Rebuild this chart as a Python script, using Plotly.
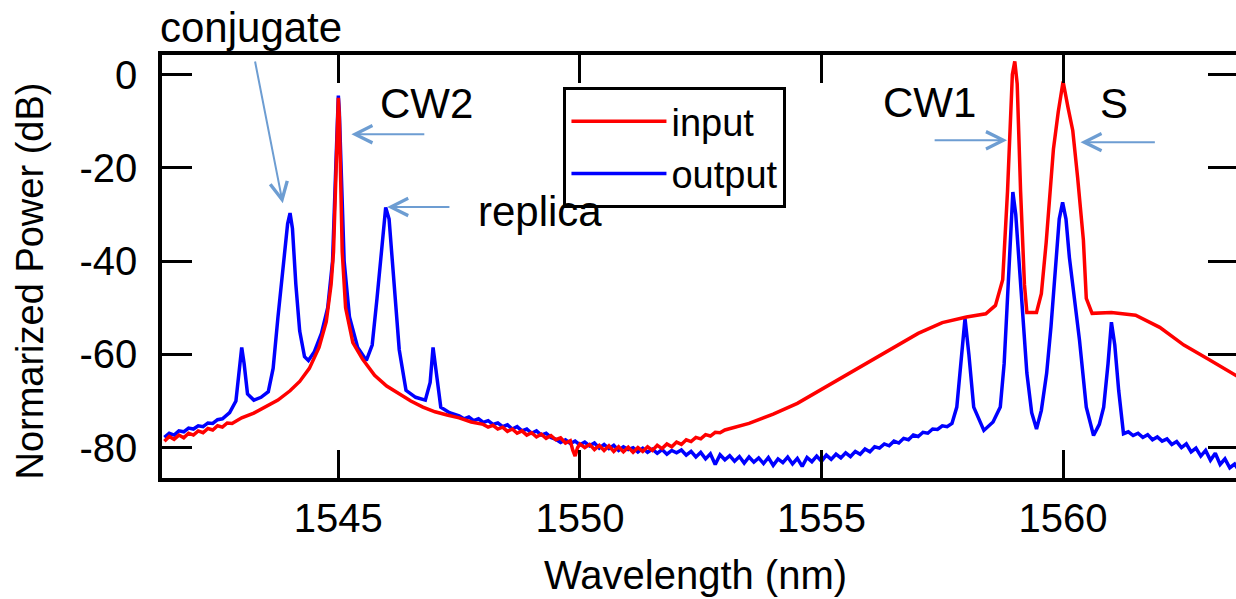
import plotly.graph_objects as go

# ---------------- data ----------------
wl_input = [1541.4, 1541.5, 1541.6, 1541.7, 1541.8, 1541.9, 1542.0, 1542.1, 1542.2, 1542.3,
            1542.4, 1542.5, 1542.6, 1542.7, 1542.8, 1543.0, 1543.25, 1543.5, 1543.75, 1544.0,
            1544.2, 1544.4, 1544.6, 1544.75, 1544.85, 1544.9, 1544.95, 1544.98, 1545.0, 1545.02,
            1545.05, 1545.08, 1545.15, 1545.3, 1545.5, 1545.75, 1546.0, 1546.25, 1546.5, 1546.75,
            1547.0, 1547.25, 1547.5, 1547.75, 1548.0, 1548.1, 1548.2, 1548.3, 1548.4, 1548.5,
            1548.6, 1548.7, 1548.8, 1548.9, 1549.0, 1549.1, 1549.2, 1549.3, 1549.4, 1549.5,
            1549.6, 1549.7, 1549.8, 1549.85, 1549.9, 1549.95, 1550.0, 1550.1, 1550.2, 1550.3,
            1550.4, 1550.5, 1550.6, 1550.7, 1550.8, 1550.9, 1551.0, 1551.1, 1551.2, 1551.3,
            1551.4, 1551.5, 1551.6, 1551.7, 1551.8, 1551.9, 1552.0, 1552.1, 1552.2, 1552.3,
            1552.4, 1552.5, 1552.6, 1552.7, 1552.8, 1552.9, 1553.0, 1553.5, 1554.0, 1554.5,
            1555.0, 1555.5, 1556.0, 1556.5, 1557.0, 1557.5, 1558.0, 1558.4, 1558.6, 1558.75,
            1558.85, 1558.95, 1559.0, 1559.05, 1559.12, 1559.2, 1559.25, 1559.45, 1559.55, 1559.65,
            1559.8, 1559.9, 1560.0, 1560.1, 1560.2, 1560.3, 1560.42, 1560.48, 1560.6, 1561.0,
            1561.5, 1562.0, 1562.5, 1563.0, 1563.62]
db_input = [-78.6, -77.6, -78.2, -77.3, -77.9, -76.9, -77.3, -76.4, -76.8, -75.9,
            -76.2, -75.3, -75.6, -74.7, -74.8, -73.6, -72.6, -71.3, -69.8, -67.8,
            -65.8, -63.0, -58.5, -53.0, -45.0, -38.0, -22.0, -10.0, -5.0, -9.0,
            -22.0, -38.0, -50.0, -57.5, -61.0, -64.5, -66.8, -68.5, -70.0, -71.3,
            -72.3, -73.0, -73.6, -74.5, -75.0, -75.6, -75.2, -76.0, -75.6, -76.5,
            -76.0, -76.9, -76.4, -77.3, -76.8, -77.7, -77.1, -78.0, -77.4, -78.3,
            -77.9, -79.0, -78.5, -80.5, -81.8, -80.0, -79.2, -80.0, -79.3, -80.4,
            -79.5, -80.6, -79.6, -80.8, -79.8, -80.9, -79.9, -81.0, -80.0, -80.8,
            -79.8, -80.6, -79.5, -80.2, -79.2, -79.8, -78.8, -79.3, -78.3, -78.7,
            -77.8, -78.1, -77.2, -77.5, -76.7, -76.8, -76.2, -74.8, -72.8, -70.5,
            -67.5, -64.6, -61.5, -58.5, -55.5, -53.2, -52.0, -51.3, -49.5, -44.0,
            -25.0, 0.0, 2.8, -2.0, -25.0, -45.0, -51.0, -51.0, -47.0, -36.0,
            -16.0, -8.0, -1.5, -7.0, -12.0, -22.0, -35.5, -48.0, -51.2, -51.0,
            -51.6, -54.2, -58.0, -61.0, -64.8]

wl_output = [1541.4, 1541.5, 1541.6, 1541.7, 1541.8, 1541.9, 1542.0, 1542.1, 1542.2, 1542.3,
             1542.4, 1542.5, 1542.6, 1542.7, 1542.75, 1542.88, 1542.95, 1543.0, 1543.05, 1543.12,
             1543.25, 1543.4, 1543.55, 1543.65, 1543.75, 1543.85, 1543.95, 1544.0, 1544.05, 1544.12,
             1544.2, 1544.3, 1544.38, 1544.5, 1544.65, 1544.78, 1544.88, 1544.94, 1544.98, 1545.0,
             1545.02, 1545.06, 1545.12, 1545.23, 1545.4, 1545.58, 1545.7, 1545.8, 1545.9, 1545.98,
             1546.05, 1546.15, 1546.26, 1546.4, 1546.6, 1546.8, 1546.9, 1546.96, 1547.02, 1547.12,
             1547.3, 1547.5, 1547.6, 1547.7, 1547.8, 1547.9, 1548.0, 1548.1, 1548.2, 1548.3,
             1548.4, 1548.5, 1548.6, 1548.7, 1548.8, 1548.9, 1549.0, 1549.1, 1549.2, 1549.3,
             1549.4, 1549.5, 1549.6, 1549.7, 1549.8, 1549.9, 1550.0, 1550.1, 1550.2, 1550.3,
             1550.4, 1550.5, 1550.6, 1550.7, 1550.8, 1550.9, 1551.0, 1551.1, 1551.2, 1551.3,
             1551.4, 1551.5, 1551.6, 1551.7, 1551.8, 1551.9, 1552.0, 1552.1, 1552.2, 1552.3,
             1552.4, 1552.5, 1552.6, 1552.7, 1552.8, 1552.9, 1553.0, 1553.1, 1553.2, 1553.3,
             1553.4, 1553.5, 1553.6, 1553.7, 1553.8, 1553.9, 1554.0, 1554.1, 1554.2, 1554.3,
             1554.4, 1554.5, 1554.6, 1554.7, 1554.8, 1554.9, 1555.0, 1555.1, 1555.2, 1555.3,
             1555.4, 1555.5, 1555.6, 1555.7, 1555.8, 1555.9, 1556.0, 1556.1, 1556.2, 1556.3,
             1556.4, 1556.5, 1556.6, 1556.7, 1556.8, 1556.9, 1557.0, 1557.1, 1557.2, 1557.3,
             1557.4, 1557.5, 1557.6, 1557.7, 1557.8, 1557.9, 1557.97, 1558.05, 1558.15, 1558.36,
             1558.55, 1558.7, 1558.78, 1558.84, 1558.9, 1558.96, 1559.02, 1559.1, 1559.25, 1559.35,
             1559.45, 1559.55, 1559.66, 1559.75, 1559.83, 1559.92, 1559.99, 1560.06, 1560.13, 1560.23,
             1560.34, 1560.48, 1560.63, 1560.75, 1560.84, 1560.93, 1561.0, 1561.07, 1561.15, 1561.25,
             1561.35, 1561.45, 1561.55, 1561.65, 1561.75, 1561.85, 1561.95, 1562.05, 1562.15, 1562.25,
             1562.35, 1562.45, 1562.55, 1562.65, 1562.75, 1562.85, 1562.95, 1563.05, 1563.15, 1563.25,
             1563.35, 1563.45, 1563.55, 1563.62]
db_output = [-77.8, -76.9, -77.3, -76.4, -76.6, -75.8, -76.0, -75.3, -75.5, -74.7,
             -74.8, -74.0, -73.8, -73.0, -72.5, -70.0, -64.0, -58.5, -62.0, -68.5,
             -69.8, -69.2, -68.0, -63.0, -52.0, -42.0, -32.0, -29.7, -33.0, -45.0,
             -55.0, -60.5, -61.3, -59.5, -55.5, -50.0, -40.0, -22.0, -8.0, -4.5,
             -8.0, -22.0, -40.0, -52.0, -58.5, -61.3, -58.0, -48.0, -36.0, -28.5,
             -31.0, -44.8, -59.0, -67.7, -69.2, -69.8, -66.0, -58.5, -63.0, -71.3,
             -72.5, -73.2, -73.8, -73.4, -74.2, -73.8, -74.6, -74.2, -75.0, -74.7,
             -75.5, -75.1, -76.0, -75.5, -76.4, -76.0, -76.9, -76.4, -77.3, -76.9,
             -77.8, -78.2, -78.9, -78.3, -79.1, -78.6, -79.4, -78.8, -79.6, -79.0,
             -80.1, -79.3, -80.2, -79.5, -80.6, -79.8, -80.4, -80.0, -80.9, -80.1,
             -81.0, -80.3, -81.2, -80.4, -81.4, -80.6, -81.1, -80.5, -81.6, -80.8,
             -82.0, -81.0, -82.4, -81.3, -83.6, -81.5, -82.6, -81.7, -82.9, -81.9,
             -83.3, -82.0, -83.1, -82.2, -83.4, -82.1, -83.8, -82.4, -83.2, -82.0,
             -83.5, -82.3, -84.0, -82.1, -83.0, -81.8, -82.9, -81.6, -82.5, -81.4,
             -82.2, -81.1, -81.9, -80.8, -81.4, -80.3, -80.9, -79.8, -80.1, -79.2,
             -79.6, -78.6, -79.0, -78.0, -78.3, -77.3, -77.6, -76.7, -76.9, -76.0,
             -76.1, -75.3, -75.5, -74.8, -71.3, -60.0, -52.3, -60.0, -71.3, -76.3,
             -74.5, -71.3, -62.0, -49.9, -36.0, -25.2, -30.0, -42.6, -64.0, -72.5,
             -76.0, -72.0, -64.0, -54.0, -42.6, -31.0, -27.4, -31.0, -39.2, -48.0,
             -57.0, -71.3, -77.4, -75.0, -71.3, -62.0, -53.1, -58.0, -67.7, -77.0,
             -76.6, -77.4, -76.9, -77.8, -77.2, -78.3, -77.7, -78.6, -78.1, -79.3,
             -78.7, -80.0, -79.2, -80.9, -80.1, -81.8, -80.6, -82.7, -81.2, -83.6,
             -82.4, -84.3, -83.5, -84.6]

series_names = ["input", "output"]
x_ticks = [1545, 1550, 1555, 1560]
x_tick_labels = ["1545", "1550", "1555", "1560"]
y_ticks = [-80, -60, -40, -20, 0]
y_tick_labels = ["-80", "-60", "-40", "-20", "0"]

# text labels (paper position) and their arrows (data position of head and tail)
label_text = ["conjugate", "CW2", "replica", "CW1", "S"]
label_px = [0.0824, 0.2454, 0.3509, 0.7130, 0.8843]
label_py = [1.0650, 0.8842, 0.6312, 0.8877, 0.8865]
arrow_head_x = [1543.85, 1545.27, 1546.01, 1558.84, 1560.36]
arrow_head_y = [-27.6, -12.8, -28.4, -14.1, -14.5]
arrow_tail_x = [1543.27, 1546.81, 1547.33, 1557.31, 1561.93]
arrow_tail_y = [3.1, -12.8, -28.4, -14.1, -14.5]

# ---------------- figure ----------------
FONT = "Liberation Sans, Arial, sans-serif"
fig = go.Figure()
fig.add_trace(go.Scatter(x=wl_output, y=db_output, mode="lines", name=series_names[1],
                         legendrank=2, line=dict(color="#0000ff", width=3.5)))
fig.add_trace(go.Scatter(x=wl_input, y=db_input, mode="lines", name=series_names[0],
                         legendrank=1, line=dict(color="#ff0000", width=3.5)))

ARROW = "#6d9dd2"
ann = []
for t, px, py in zip(label_text, label_px, label_py):
    ann.append(dict(x=px, y=py, xref="paper", yref="paper", text=t, showarrow=False,
                    xanchor="center", yanchor="middle",
                    font=dict(family=FONT, size=42, color="black")))
for hx, hy, tx, ty in zip(arrow_head_x, arrow_head_y, arrow_tail_x, arrow_tail_y):
    ann.append(dict(x=hx, y=hy, xref="x", yref="y", ax=tx, ay=ty, axref="x", ayref="y",
                    text="", showarrow=True, arrowhead=5, arrowsize=1.7, arrowwidth=2,
                    arrowcolor=ARROW))
ann.append(dict(x=0.4954, y=-0.2293, xref="paper", yref="paper", text="Wavelength (nm)",
                showarrow=False, xanchor="center", yanchor="middle",
                font=dict(family=FONT, size=40, color="black")))
ann.append(dict(x=-0.1231, y=0.4657, xref="paper", yref="paper", text="Normarized Power (dB)",
                showarrow=False, xanchor="center", yanchor="middle", textangle=-90,
                font=dict(family=FONT, size=38, color="black")))

axis_common = dict(showgrid=False, zeroline=False, showline=True, linecolor="black",
                   linewidth=3.5, mirror="ticks", ticks="inside", tickcolor="black",
                   tickwidth=2.5, tickfont=dict(family=FONT, size=40, color="black"))

fig.update_layout(
    width=1242, height=599,
    margin=dict(l=162, r=0, t=55, b=121),
    paper_bgcolor="white", plot_bgcolor="white",
    xaxis=dict(range=[1541.35, 1563.62], tickvals=x_ticks, ticktext=x_tick_labels,
               ticklen=28, ticklabelstandoff=2, **axis_common),
    yaxis=dict(range=[-86.5, 4.18], tickvals=y_ticks, ticktext=y_tick_labels,
               ticklen=30, ticklabelstandoff=13, **axis_common),
    legend=dict(x=0.3731, y=0.9243, xanchor="left", yanchor="top",
                bordercolor="black", borderwidth=3, bgcolor="white",
                font=dict(family=FONT, size=38, color="black"),
                itemwidth=95, tracegroupgap=0),
    annotations=ann,
    showlegend=True,
)

fig.write_html("out.html", config={"displayModeBar": False},
               post_script="document.body.style.margin='0px';document.body.style.overflow='hidden';")
